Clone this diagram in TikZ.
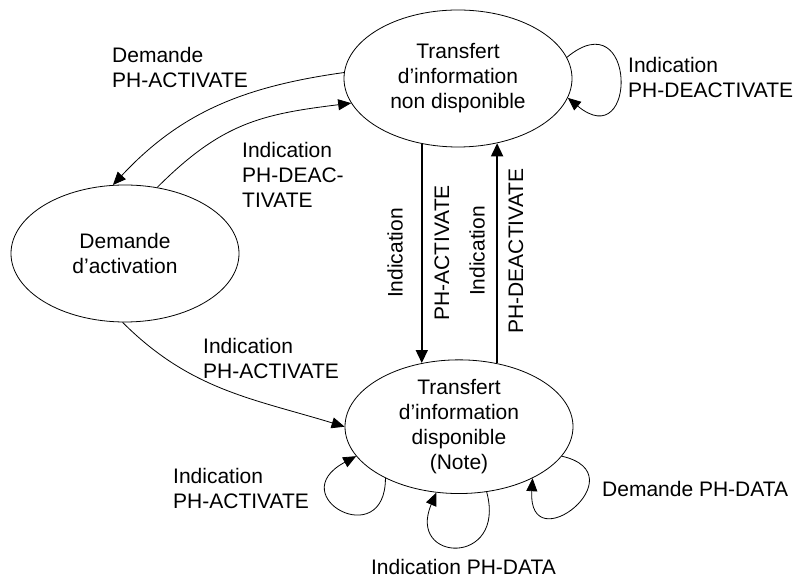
\documentclass[tikz,border=0pt]{standalone}
\usepackage{fontspec}
\setmainfont{Liberation Sans}
\usetikzlibrary{arrows.meta,shapes.geometric}

\begin{document}
\begin{tikzpicture}[x=1pt,y=1pt,
  state/.style={draw,ellipse,line width=0.8pt,minimum width=228pt,minimum height=137pt,align=center},
  lbl/.style={align=left,anchor=west},
  trans/.style={line width=0.8pt,-{Triangle[length=13pt,width=11pt]}},
  vtrans/.style={line width=1.6pt,-{Triangle[length=13pt,width=12pt]}}]
\tikzstyle{every node}+=[inner sep=0pt,font=\fontsize{21}{25}\selectfont]
\useasboundingbox (0,0) rectangle (798,578);
\node[state] (top) at (458,499.5) {Transfert\\d’information\\non disponible};
\node[state] (dem) at (125,324.5) {Demande\\d’activation};
\node[state,minimum height=133pt] (bot) at (459,151.3) {Transfert\\d’information\\disponible\\(Note)};
\draw[trans] (top.177) to[out=188,in=47] (dem.100);
\draw[trans] (dem.64) to[out=45,in=187,looseness=1.1] (top.193);
\draw[trans] (dem.268) to[out=-45,in=163] (bot.west);
\draw[vtrans] (top.241) -- (top.241 |- bot.120);
\draw[vtrans] (bot.59) -- (bot.59 |- top.301);
\draw[trans] (top.11) .. controls +(70,58) and +(70,-58) .. (top.-10);
\draw[trans] (bot.215) .. controls +(0,-75) and +(-75,-40) .. (bot.196);
\draw[trans] (bot.293) .. controls +(20,-75) and +(-30,-70) .. (bot.251);
\draw[trans] (bot.344) .. controls +(78,-18) and +(-5,-85) .. (bot.325);
\node[lbl] (dmact) at (112,510.5) {Demande\\PH-ACTIVATE};
\node[lbl] (indeac) at (242,403) {Indication\\PH-DEAC-\\TIVATE};
\node[lbl] (inact) at (203,219.5) {Indication\\PH-ACTIVATE};
\node[lbl] (indeacb) at (628,500.5) {Indication\\PH-DEACTIVATE};
\node[lbl] (inactb) at (173,89.5) {Indication\\PH-ACTIVATE};
\node[lbl] (dmdata) at (602,89) {Demande PH-DATA};
\node (indata) at (463.5,11) {Indication PH-DATA};
\node[rotate=90] (vind) at (395,325) {Indication};
\node[rotate=90] (vact) at (442,325) {PH-ACTIVATE};
\node[rotate=90] (vindb) at (477,327) {Indication};
\node[rotate=90] (vdeac) at (516,327) {PH-DEACTIVATE};
\end{tikzpicture}
\end{document}
